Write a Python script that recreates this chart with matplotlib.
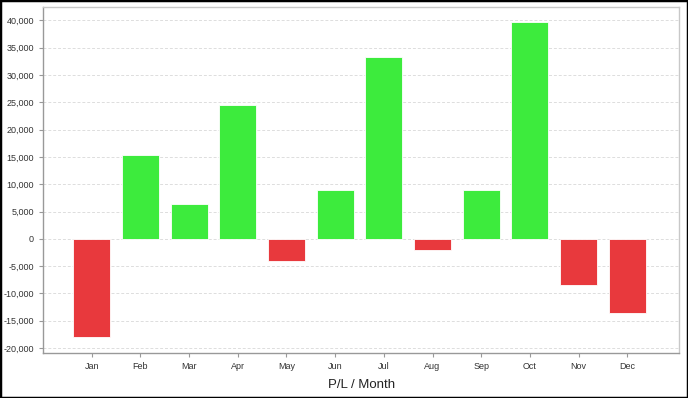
import matplotlib.pyplot as plt
from matplotlib.ticker import FuncFormatter, MultipleLocator
from matplotlib.patches import Rectangle

months = ["Jan", "Feb", "Mar", "Apr", "May", "Jun", "Jul", "Aug", "Sep", "Oct", "Nov", "Dec"]
pl = [-17900, 15300, 6400, 24450, -4000, 8950, 33200, -2000, 8950, 39600, -8400, -13500]

plt.rcParams["font.family"] = ["Liberation Sans", "DejaVu Sans"]

fig = plt.figure(figsize=(6.88, 3.98), dpi=100)
ax = fig.add_axes([0.0625, 0.113, 0.925, 0.869])

colors = ["#3deb3d" if v >= 0 else "#e8393d" for v in pl]
ax.bar(range(len(months)), pl, width=0.76, color=colors, edgecolor="white",
       linewidth=0.6, zorder=3)

ax.set_xlim(-1, 12.07)
ax.set_ylim(-20900, 42400)
ax.yaxis.set_major_locator(MultipleLocator(5000))
ax.yaxis.set_major_formatter(FuncFormatter(lambda v, p: f"{int(v):,}"))
ax.set_xticks(range(len(months)))
ax.set_xticklabels(months)

ax.grid(axis="y", color="#dddddd", linestyle=(0, (3, 2)), linewidth=0.7, zorder=0)
ax.tick_params(labelsize=6.5, colors="#999999", length=3, width=0.8, labelcolor="#333333")

for side in ["left", "bottom"]:
    ax.spines[side].set_color("#999999")
    ax.spines[side].set_linewidth(1.0)
for side in ["top", "right"]:
    ax.spines[side].set_color("#c8c8c8")
    ax.spines[side].set_linewidth(1.0)

ax.set_xlabel("P/L / Month", fontsize=9.5, color="#222222", labelpad=6)

# outer black frame
fig.patches.append(Rectangle((0, 0), 1, 1, transform=fig.transFigure, fill=False,
                             edgecolor="black", linewidth=2.5))

fig.savefig("out.png", dpi=100)
